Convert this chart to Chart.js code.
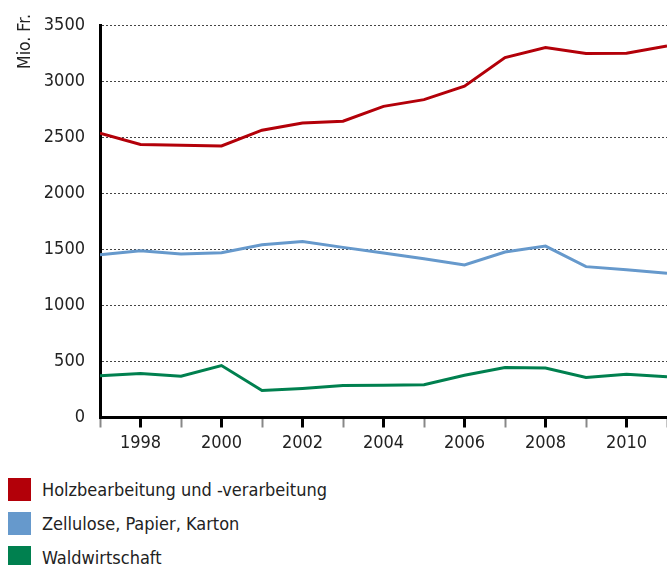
<!DOCTYPE html>
<html>
<head>
<meta charset="utf-8">
<script src="https://cdn.jsdelivr.net/npm/chart.js@4/dist/chart.umd.min.js"></script>
<style>
    body { margin: 0; width: 667px; height: 565px; overflow: hidden; background: #fff;
           font-family: 'DejaVu Sans Condensed', 'DejaVu Sans', sans-serif; }
    #wrap { position: absolute; left: 0; top: 0; width: 672px; height: 465px; }
    #legend { position: absolute; left: 8px; top: 478px; }
    .item { display: flex; align-items: center; height: 23px; margin-bottom: 11px; font-size: 18px; color: #222; }
    .swatch { width: 23px; height: 23px; margin-right: 11px; }
</style>
</head>
<body>
<div id="wrap"><canvas id="chart"></canvas></div>
<div id="legend"></div>
<script>
const FONT = "'DejaVu Sans Condensed', 'DejaVu Sans', sans-serif";

const years = [1997, 1998, 1999, 2000, 2001, 2002, 2003, 2004, 2005, 2006, 2007, 2008, 2009, 2010, 2011];
const holz = [2540, 2440, 2433, 2427, 2567, 2632, 2647, 2780, 2840, 2961, 3216, 3305, 3252, 3255, 3320];
const zellulose = [1455, 1490, 1461, 1473, 1544, 1573, 1520, 1470, 1419, 1363, 1479, 1532, 1348, 1321, 1288];
const wald = [372, 393, 369, 464, 242, 260, 286, 289, 292, 378, 446, 443, 358, 387, 363];
const seriesNames = ['Holzbearbeitung und -verarbeitung', 'Zellulose, Papier, Karton', 'Waldwirtschaft'];
const seriesColors = ['#b30009', '#6699cc', '#00804f'];
const yTicks = [0, 500, 1000, 1500, 2000, 2500, 3000, 3500];

const allSeries = [holz, zellulose, wald];

const datasets = allSeries.map((values, i) => ({
    label: seriesNames[i],
    data: years.map((y, j) => ({ x: y, y: values[j] })),
    borderColor: seriesColors[i],
    borderWidth: 3,
    pointRadius: 0,
    fill: false,
    tension: 0
}));

// y axis title sits at the top left, rotated
const yTitle = {
    id: 'yTitle',
    afterDraw(chart) {
        const ctx = chart.ctx;
        ctx.save();
        ctx.translate(25, 14);
        ctx.rotate(-Math.PI / 2);
        ctx.font = '17.5px ' + FONT;
        ctx.fillStyle = '#222';
        ctx.textAlign = 'right';
        ctx.textBaseline = 'middle';
        ctx.fillText('Mio. Fr.', 0, 0);
        ctx.restore();
    }
};

new Chart(document.getElementById('chart'), {
    type: 'line',
    data: { datasets },
    plugins: [yTitle],
    options: {
        responsive: true,
        maintainAspectRatio: false,
        animation: false,
        layout: { padding: { top: 24, left: 0, right: 4, bottom: 0 } },
        plugins: { legend: { display: false }, tooltip: { enabled: false } },
        scales: {
            x: {
                type: 'linear',
                min: 1997,
                max: 2011,
                afterBuildTicks: scale => { scale.ticks = years.map(v => ({ value: v })); },
                afterFit: scale => { scale.height = 47.5; },
                border: { color: '#000', width: 3 },
                grid: {
                    drawOnChartArea: false,
                    drawTicks: true,
                    tickLength: 10,
                    tickColor: c => (c.tick && c.tick.value % 2 === 0) ? '#000' : '#888',
                    tickWidth: c => (c.tick && c.tick.value % 2 === 0) ? 3 : 2
                },
                ticks: {
                    autoSkip: false,
                    maxRotation: 0,
                    padding: 5,
                    color: '#222',
                    font: { family: FONT, size: 18 },
                    callback: v => (v % 2 === 0 ? String(v) : '')
                }
            },
            y: {
                min: 0,
                max: 3500,
                afterBuildTicks: scale => { scale.ticks = yTicks.map(v => ({ value: v })); },
                afterFit: scale => { scale.width = 100; },
                border: { color: '#000', width: 3, dash: [2, 2] },
                grid: {
                    drawTicks: false,
                    color: c => c.tick && c.tick.value === 0 ? 'rgba(0,0,0,0)' : '#444',
                    lineWidth: 1
                },
                ticks: {
                    padding: 15,
                    color: '#222',
                    font: { family: FONT, size: 18 },
                    callback: v => String(v)
                }
            }
        }
    }
});

const legend = document.getElementById('legend');
seriesNames.forEach((name, i) => {
    const item = document.createElement('div');
    item.className = 'item';
    const sw = document.createElement('div');
    sw.className = 'swatch';
    sw.style.background = seriesColors[i];
    const label = document.createElement('span');
    label.textContent = name;
    item.appendChild(sw);
    item.appendChild(label);
    legend.appendChild(item);
});
</script>
</body>
</html>
